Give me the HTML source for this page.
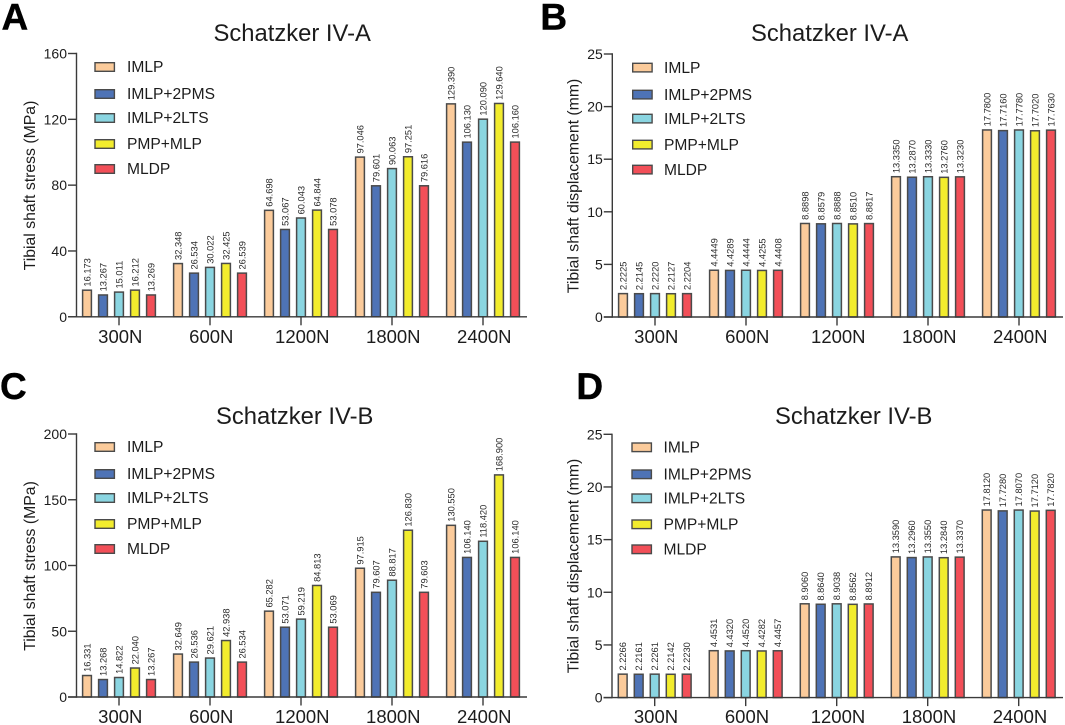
<!DOCTYPE html>
<html lang="en">
<head>
<meta charset="utf-8">
<title>Tibial shaft stress and displacement</title>
<style>
  html, body { margin: 0; padding: 0; background: #fff; }
  svg { display: block; font-family: "Liberation Sans", Arial, sans-serif; }
  text { fill: #1c1c1c; }
</style>
</head>
<body>
<svg id="figure" width="1065" height="725" viewBox="0 0 1065 725" xmlns="http://www.w3.org/2000/svg"></svg>
<script>
const categories = ['300N', '600N', '1200N', '1800N', '2400N'];
const seriesNames = ['IMLP', 'IMLP+2PMS', 'IMLP+2LTS', 'PMP+MLP', 'MLDP'];

const stressTicksA = [0, 40, 80, 120, 160];
const stressTicksC = [0, 50, 100, 150, 200];
const displacementTicks = [0, 5, 10, 15, 20, 25];

const stressA300 = [16.173, 13.267, 15.011, 16.212, 13.269];
const stressA600 = [32.348, 26.534, 30.022, 32.425, 26.539];
const stressA1200 = [64.698, 53.067, 60.043, 64.844, 53.078];
const stressA1800 = [97.046, 79.601, 90.063, 97.251, 79.616];
const stressA2400 = [129.390, 106.130, 120.090, 129.640, 106.160];

const dispA300 = [2.2225, 2.2145, 2.2220, 2.2127, 2.2204];
const dispA600 = [4.4449, 4.4289, 4.4444, 4.4255, 4.4408];
const dispA1200 = [8.8898, 8.8579, 8.8888, 8.8510, 8.8817];
const dispA1800 = [13.3350, 13.2870, 13.3330, 13.2760, 13.3230];
const dispA2400 = [17.7800, 17.7160, 17.7780, 17.7020, 17.7630];

const stressB300 = [16.331, 13.268, 14.822, 22.040, 13.267];
const stressB600 = [32.649, 26.536, 29.621, 42.938, 26.534];
const stressB1200 = [65.282, 53.071, 59.219, 84.813, 53.069];
const stressB1800 = [97.915, 79.607, 88.817, 126.830, 79.603];
const stressB2400 = [130.550, 106.140, 118.420, 168.900, 106.140];

const dispB300 = [2.2266, 2.2161, 2.2261, 2.2142, 2.2230];
const dispB600 = [4.4531, 4.4320, 4.4520, 4.4282, 4.4457];
const dispB1200 = [8.9060, 8.8640, 8.9038, 8.8562, 8.8912];
const dispB1800 = [13.3590, 13.2960, 13.3550, 13.2840, 13.3370];
const dispB2400 = [17.8120, 17.7280, 17.8070, 17.7120, 17.7820];

const fills = ['#FBCB9B', '#4E73B6', '#8AD5E1', '#F2EC2D', '#F24F58'];
const legendOffsets = [0, 27, 51, 77, 102];

const panels = [
  { key: 'a', letter: 'A', letterX: 1.5, letterY: 29.5, title: 'Schatzker IV-A', titleX: 213.5, titleY: 41,
    yTitle: 'Tibial shaft stress (MPa)', yTitleX: 35, yTitleY: 185.5,
    axisX: 76.5, yTop: 53.5, yZero: 316.8, firstGroup: 119, axisEnd: 527, labelBase: 343,
    legendX: 95, legendTextX: 127, legendY: 67, ticks: stressTicksA, decimals: 3,
    groups: [stressA300, stressA600, stressA1200, stressA1800, stressA2400] },
  { key: 'b', letter: 'B', letterX: 540.4, letterY: 29.5, title: 'Schatzker IV-A', titleX: 751, titleY: 41,
    yTitle: 'Tibial shaft displacement (mm)', yTitleX: 578.5, yTitleY: 186,
    axisX: 612.3, yTop: 54, yZero: 317, firstGroup: 655, axisEnd: 1063, labelBase: 343,
    legendX: 632.7, legendTextX: 664, legendY: 67.6, ticks: displacementTicks, decimals: 4,
    groups: [dispA300, dispA600, dispA1200, dispA1800, dispA2400] },
  { key: 'c', letter: 'C', letterX: 0, letterY: 399, title: 'Schatzker IV-B', titleX: 216, titleY: 424,
    yTitle: 'Tibial shaft stress (MPa)', yTitleX: 35, yTitleY: 566,
    axisX: 76.5, yTop: 434, yZero: 697, firstGroup: 119, axisEnd: 527, labelBase: 723,
    legendX: 95, legendTextX: 127, legendY: 447, ticks: stressTicksC, decimals: 3,
    groups: [stressB300, stressB600, stressB1200, stressB1800, stressB2400] },
  { key: 'd', letter: 'D', letterX: 576.4, letterY: 399, title: 'Schatzker IV-B', titleX: 775, titleY: 424,
    yTitle: 'Tibial shaft displacement (mm)', yTitleX: 578.5, yTitleY: 566,
    axisX: 612, yTop: 434.3, yZero: 697.6, firstGroup: 654.7, axisEnd: 1063, labelBase: 723,
    legendX: 632, legendTextX: 663.5, legendY: 447.3, ticks: displacementTicks, decimals: 4,
    groups: [dispB300, dispB600, dispB1200, dispB1800, dispB2400] }
];

const GROUP_STEP = 91;
const BAR_STEP = 16;
const BAR_WIDTH = 8.8;
const AXIS_COLOR = '#3a3a3a';
const BAR_STROKE = '#4a4a4a';
const svg = document.getElementById('figure');

function make(tag, attrs, parent) {
  const el = document.createElementNS('http://www.w3.org/2000/svg', tag);
  for (const k in attrs) el.setAttribute(k, attrs[k]);
  parent.appendChild(el);
  return el;
}

function groupX(p, groupIndex) {
  return p.firstGroup + groupIndex * GROUP_STEP;
}
function barX(p, groupIndex, seriesIndex) {
  return groupX(p, groupIndex) + (seriesIndex - 2) * BAR_STEP;
}
function yScale(p, value) {
  const max = p.ticks[p.ticks.length - 1];
  return p.yZero - (value / max) * (p.yZero - p.yTop);
}

panels.forEach(function (p) {
  const g = make('g', {}, svg);
  
  

  const letter = make('text', { x: p.letterX, y: p.letterY, 'font-size': 37, 'font-weight': 'bold', style: 'fill:#000;stroke:#000;stroke-width:0.4' }, g);
  letter.textContent = p.letter;
  
  

  const title = make('text', { x: p.titleX, y: p.titleY, 'font-size': 23.8 }, g);
  title.textContent = p.title;
  
  

  const yTitle = make('text', {
    transform: 'translate(' + p.yTitleX + ' ' + p.yTitleY + ') rotate(-90)',
    'text-anchor': 'middle', 'font-size': 15.8
  }, g);
  yTitle.textContent = p.yTitle;
  
  

  // bars and printed values
  p.groups.forEach(function (values, gi) {
    values.forEach(function (v, si) {
      const cx = barX(p, gi, si);
      const top = yScale(p, v);
      const bar = make('rect', {
        x: cx - BAR_WIDTH / 2, y: top, width: BAR_WIDTH, height: p.yZero - top,
        fill: fills[si], stroke: BAR_STROKE, 'stroke-width': 1.5
      }, g);
      
      

      const label = make('text', {
        transform: 'translate(' + (cx + 3.3) + ' ' + (top - 3.6) + ') rotate(-90)',
        'font-size': 9.3, style: 'fill:#2a2a2a'
      }, g);
      label.textContent = v.toFixed(p.decimals);
      
      
    });
  });

  // y axis
  const yAxis = make('line', { x1: p.axisX, x2: p.axisX, y1: p.yTop - 0.7, y2: p.yZero + 0.7, stroke: AXIS_COLOR, 'stroke-width': 1.4 }, g);
  
  

  p.ticks.forEach(function (t) {
    const y = yScale(p, t);
    const tick = make('line', { x1: p.axisX - 8.5, x2: p.axisX, y1: y, y2: y, stroke: AXIS_COLOR, 'stroke-width': 1.4 }, g);
    
    

    const tl = make('text', { x: p.axisX - 9.5, y: y + 5, 'text-anchor': 'end', 'font-size': 14 }, g);
    tl.textContent = t;
    
    
  });

  // x axis
  const xAxis = make('line', { x1: p.axisX - 8.5, x2: p.axisEnd, y1: p.yZero, y2: p.yZero, stroke: AXIS_COLOR, 'stroke-width': 1.4 }, g);
  
  

  categories.forEach(function (c, gi) {
    const x = groupX(p, gi);
    const tick = make('line', { x1: x, x2: x, y1: p.yZero, y2: p.yZero + 8.5, stroke: AXIS_COLOR, 'stroke-width': 1.4 }, g);
    
    

    const tl = make('text', { x: x + 1.3, y: p.labelBase, 'text-anchor': 'middle', 'font-size': 18.5 }, g);
    tl.textContent = c;
    
    
  });

  // legend
  seriesNames.forEach(function (name, si) {
    const cy = p.legendY + legendOffsets[si];
    const entry = make('g', {}, g);
    
    

    const swatch = make('rect', { x: p.legendX, y: cy - 4.3, width: 19.4, height: 8.6, fill: fills[si], stroke: BAR_STROKE, 'stroke-width': 1.4 }, entry);
    
    

    const label = make('text', { x: p.legendTextX, y: cy + 5.2, 'font-size': 15.6 }, entry);
    label.textContent = name;
    
    
  });
});
</script>
</body>
</html>
